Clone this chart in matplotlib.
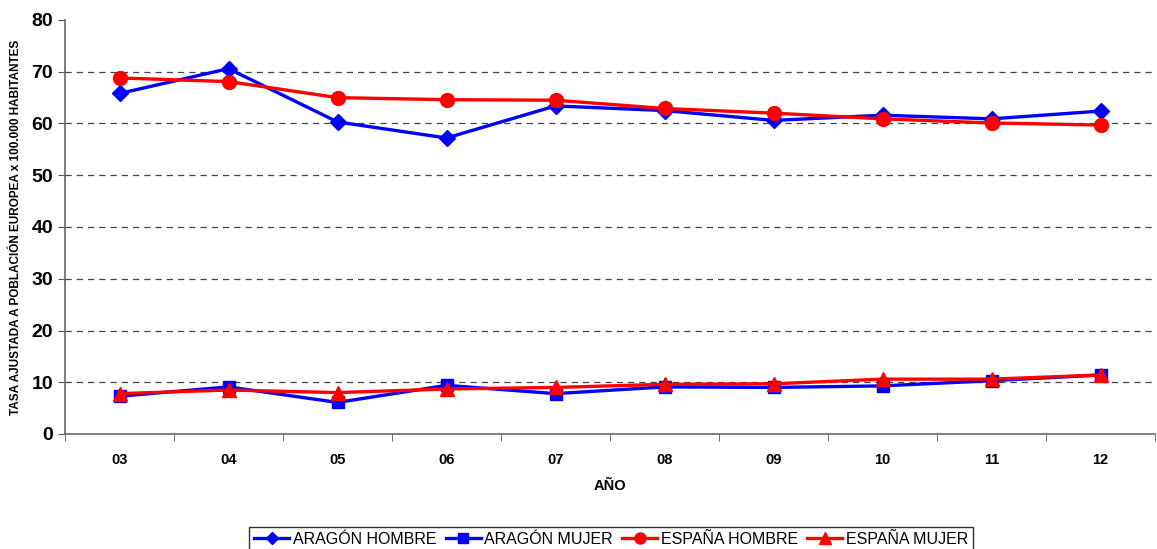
import matplotlib.pyplot as plt
from matplotlib.ticker import FixedLocator

plt.rcParams['font.family'] = ['Liberation Sans', 'DejaVu Sans']

anos = ["03", "04", "05", "06", "07", "08", "09", "10", "11", "12"]
aragon_hombre = [65.8, 70.6, 60.3, 57.2, 63.4, 62.5, 60.6, 61.6, 60.9, 62.4]
aragon_mujer = [7.3, 9.1, 6.1, 9.4, 7.8, 9.1, 9.0, 9.3, 10.3, 11.4]
espana_hombre = [68.8, 68.1, 65.0, 64.6, 64.5, 62.9, 62.0, 60.9, 60.1, 59.7]
espana_mujer = [7.8, 8.5, 8.0, 8.7, 9.0, 9.6, 9.7, 10.6, 10.6, 11.4]

fig = plt.figure(figsize=(11.57, 5.49), dpi=100)
ax = fig.add_axes([65 / 1157, 1 - 434 / 549, 1090 / 1157, 414 / 549])

x = list(range(len(anos)))
ax.plot(x, aragon_hombre, color="#0000ff", lw=2.4, marker="D", ms=8, label="ARAGÓN HOMBRE")
ax.plot(x, aragon_mujer, color="#0000ff", lw=2.4, marker="s", ms=9, label="ARAGÓN MUJER")
ax.plot(x, espana_hombre, color="#ff0000", lw=2.4, marker="o", ms=10, label="ESPAÑA HOMBRE")
ax.plot(x, espana_mujer, color="#ff0000", lw=2.4, marker="^", ms=10, label="ESPAÑA MUJER")

ax.set_xlim(-0.5, len(anos) - 0.5)
ax.set_ylim(0, 80)
ax.set_yticks(range(0, 81, 10))
ax.set_xticks(x)
ax.set_xticklabels(anos, fontsize=10.5, fontweight="bold")
ax.tick_params(axis="x", which="major", length=0, pad=14)
ax.xaxis.set_minor_locator(FixedLocator([i - 0.5 for i in range(len(anos) + 1)]))
ax.tick_params(axis="x", which="minor", length=5, color="#555555")
ax.tick_params(axis="y", labelsize=14, length=5, color="#555555")
for lab in ax.get_yticklabels():
    lab.set_fontweight("bold")

for y in range(10, 80, 10):
    ax.axhline(y, color="#444444", lw=0.9, ls=(0, (5, 4)), zorder=0)

for s in ["top", "right"]:
    ax.spines[s].set_visible(False)
for s in ["left", "bottom"]:
    ax.spines[s].set_color("#666666")
    ax.spines[s].set_linewidth(1.2)

ax.set_xlabel("AÑO", fontsize=10.5, fontweight="bold", labelpad=8)
ax.set_ylabel("TASA AJUSTADA A POBLACIÓN EUROPEA x 100.000 HABITANTES", fontsize=8.5, fontweight="bold", labelpad=7)

leg = fig.legend(loc="center", bbox_to_anchor=(611 / 1157, 1 - 539 / 549), ncol=4,
                 fontsize=11.5, frameon=True, fancybox=False, edgecolor="black",
                 handlelength=2.2, handletextpad=0.2, columnspacing=0.6,
                 borderpad=0.3, markerscale=0.8)
leg.get_frame().set_linewidth(1.0)

fig.savefig("out.png", dpi=100)
